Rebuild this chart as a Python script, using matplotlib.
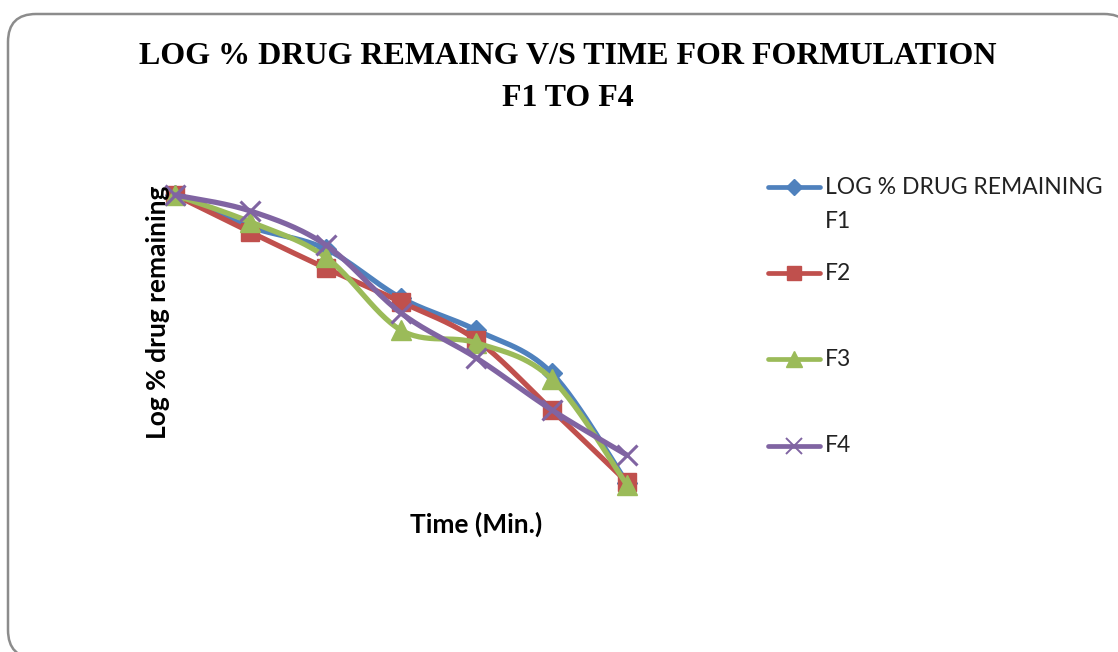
import numpy as np
import matplotlib
matplotlib.use("Agg")
import matplotlib.pyplot as plt
from matplotlib.lines import Line2D
from matplotlib.patches import FancyBboxPatch
from matplotlib.transforms import IdentityTransform

# Sampling times (category axis, equally spaced)
time_points = ["0", "15", "30", "45", "60", "90", "120"]

# Log % drug remaining for each formulation
f1 = [2.000, 1.890, 1.814, 1.645, 1.534, 1.386, 1.007]
f2 = [2.000, 1.872, 1.748, 1.631, 1.500, 1.259, 1.010]
f3 = [2.000, 1.907, 1.786, 1.534, 1.490, 1.366, 1.000]
f4 = [2.000, 1.945, 1.828, 1.593, 1.438, 1.259, 1.103]

labels = ["LOG % DRUG REMAINING\nF1", "F2", "F3", "F4"]
colors = ["#4F81BD", "#C0504D", "#9BBB59", "#8064A2"]
markers = ["D", "s", "^", "x"]
msizes = [10, 13, 14, 15]

W, H = 1118, 652
fig = plt.figure(figsize=(W / 100, H / 100), dpi=100)


def fx(px):
    return px / W


def fy(py):
    return 1 - py / H


# Rounded chart-area border (pixel coordinates, origin bottom-left)
border = FancyBboxPatch((8, H - 658), 1132 - 8, 658 - 14,
                        boxstyle="round,pad=0,rounding_size=28",
                        transform=IdentityTransform(), facecolor="white",
                        edgecolor="#8c8c8c", linewidth=1.8, zorder=0)
fig.add_artist(border)

# Plot area
ax_left, ax_right = 137.3, 664.7
ax_top, ax_bot = 170, 500
ax = fig.add_axes([fx(ax_left), fy(ax_bot), fx(ax_right - ax_left),
                   (ax_bot - ax_top) / H])
ax.set_facecolor("none")
ax.set_xlim(-0.5, len(time_points) - 0.5)
ax.set_ylim(2 - (ax_bot - 195) / 290, 2 + (195 - ax_top) / 290)
for s in ax.spines.values():
    s.set_visible(False)
ax.set_xticks([])
ax.set_yticks([])


def smooth(y, n=30):
    """Bezier smoothing through the points (Catmull-Rom style)."""
    x = np.arange(len(y), dtype=float)
    p = np.column_stack([x, np.asarray(y, dtype=float)])
    out = [p[0]]
    t = np.linspace(0, 1, n)[1:]
    for i in range(len(p) - 1):
        p0 = p[i - 1] if i > 0 else p[i]
        p3 = p[i + 2] if i + 2 < len(p) else p[i + 1]
        c1 = p[i] + (p[i + 1] - p0) / 6
        c2 = p[i + 1] - (p3 - p[i]) / 6
        for tt in t:
            b = ((1 - tt) ** 3 * p[i] + 3 * (1 - tt) ** 2 * tt * c1
                 + 3 * (1 - tt) * tt ** 2 * c2 + tt ** 3 * p[i + 1])
            out.append(b)
    out = np.array(out)
    return out[:, 0], out[:, 1]


series = [f1, f2, f3, f4]
for k, (ys, c, m, ms) in enumerate(zip(series, colors, markers, msizes)):
    sx, sy = smooth(ys)
    ax.plot(sx, sy, color=c, lw=3.8, solid_capstyle="round", zorder=2 + k)
    ax.plot(np.arange(len(ys)), ys, linestyle="none", marker=m,
            markersize=ms, color=c, markeredgecolor=c,
            markeredgewidth=2.2 if m == "x" else 1.0, zorder=2 + k)

# Axis titles
fig.text(fx(476), fy(524), "Time (Min.)", ha="center", va="center",
         fontsize=19, fontweight="bold", family="Lato")
fig.text(fx(158), fy(312), "Log % drug remaining", ha="center", va="center",
         rotation=90, fontsize=19, fontweight="bold", family="Lato")

# Title
fig.text(fx(568), fy(56), "LOG % DRUG REMAING V/S TIME FOR FORMULATION",
         ha="center", va="center", fontsize=23, fontweight="bold",
         family="Liberation Serif")
fig.text(fx(568), fy(98), "F1 TO F4", ha="center", va="center",
         fontsize=23, fontweight="bold", family="Liberation Serif")

# Legend
leg_y = [187, 273, 359, 446]
for lab, c, m, ms, yy in zip(labels, colors, markers, msizes, leg_y):
    fig.add_artist(Line2D([fx(768), fx(820)], [fy(yy), fy(yy)],
                          transform=fig.transFigure, color=c, lw=3.4,
                          solid_capstyle="round"))
    fig.add_artist(Line2D([fx(794)], [fy(yy)], transform=fig.transFigure,
                          color=c, marker=m, markersize=ms * 0.8,
                          markeredgewidth=1.4 if m == "x" else 1.0,
                          linestyle="none"))
    for j, line in enumerate(lab.split("\n")):
        fig.text(fx(825), fy(yy + 35 * j), line, ha="left", va="center",
                 fontsize=16.5, family="Lato", color="#222222")

fig.savefig("out.png", dpi=100)
